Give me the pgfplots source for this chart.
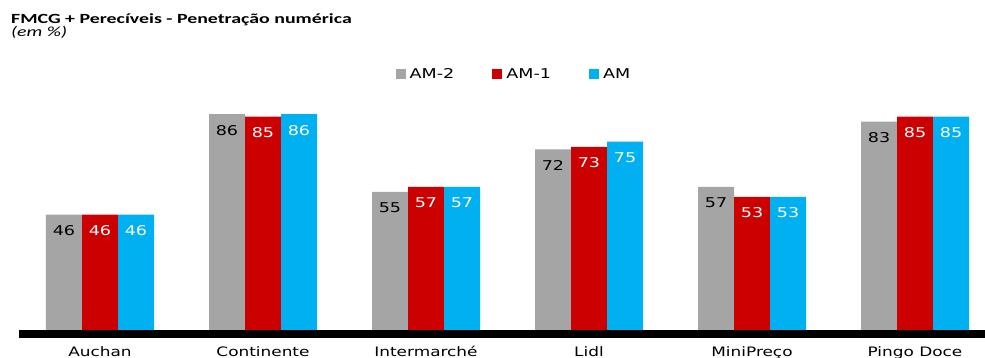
\documentclass[border=0pt]{standalone}
\usepackage{pgfplots}
\pgfplotsset{compat=1.18}
\usepackage{fontspec}
\setmainfont{DejaVu Sans}[FakeStretch=1.3]
\newfontfamily\titlefont{Carlito}[FakeStretch=1.42]
\definecolor{cgray}{HTML}{A5A5A5}
\definecolor{cred}{HTML}{CC0000}
\definecolor{cblue}{HTML}{00B0F0}
\begin{document}
\begin{tikzpicture}
\path[use as bounding box, clip] (0pt,0pt) rectangle (985pt,-358pt);
\node[anchor=base west, inner sep=0, font=\titlefont\bfseries\fontsize{14}{16}\selectfont] at (11pt,-24pt) {FMCG + Perecíveis - Penetração numérica};
\node[anchor=base west, inner sep=0, font=\titlefont\itshape\fontsize{14}{16}\selectfont] at (11pt,-37pt) {(em \%)};
\begin{axis}[
  at={(18.5pt,-334pt)}, anchor=south west,
  scale only axis, width=978pt, height=255pt,
  xmin=-0.5, xmax=5.5, ymin=-1.6, ymax=100,
  ybar=0pt, bar width=36pt,
  axis x line*=bottom, axis y line=none,
  x axis line style={line width=8pt, -},
  xtick={0,1,2,3,4,5},
  xticklabels={Auchan,Continente,Intermarché,Lidl,MiniPreço,Pingo Doce},
  major tick length=0pt,
  xticklabel style={anchor=base, yshift=-22pt, font=\fontsize{13}{15}\selectfont},
  /pgf/number format/assume math mode=true,
  nodes near coords,
  every node near coord/.append style={anchor=center, yshift=-16pt, font=\fontsize{13.5}{15}\selectfont},
  legend image code/.code={\fill[#1] (0pt,-5pt) rectangle (10pt,5pt);},
  legend columns=3,
  legend style={at={(0.5066,1.02)}, anchor=center, draw=none, fill=none,
    font=\fontsize{13.5}{15}\selectfont,
    /tikz/every odd column/.append style={column sep=2pt},
    /tikz/every even column/.append style={column sep=36pt}},
]
\addplot[fill=cgray, draw=none, every node near coord/.append style={text=black}] coordinates {(0,46) (1,86) (2,55) (3,72) (4,57) (5,83)};
\addplot[fill=cred, draw=none, every node near coord/.append style={text=white}] coordinates {(0,46) (1,85) (2,57) (3,73) (4,53) (5,85)};
\addplot[fill=cblue, draw=none, every node near coord/.append style={text=white}] coordinates {(0,46) (1,86) (2,57) (3,75) (4,53) (5,85)};
\legend{AM-2,AM-1,AM}
\end{axis}
\end{tikzpicture}
\end{document}
